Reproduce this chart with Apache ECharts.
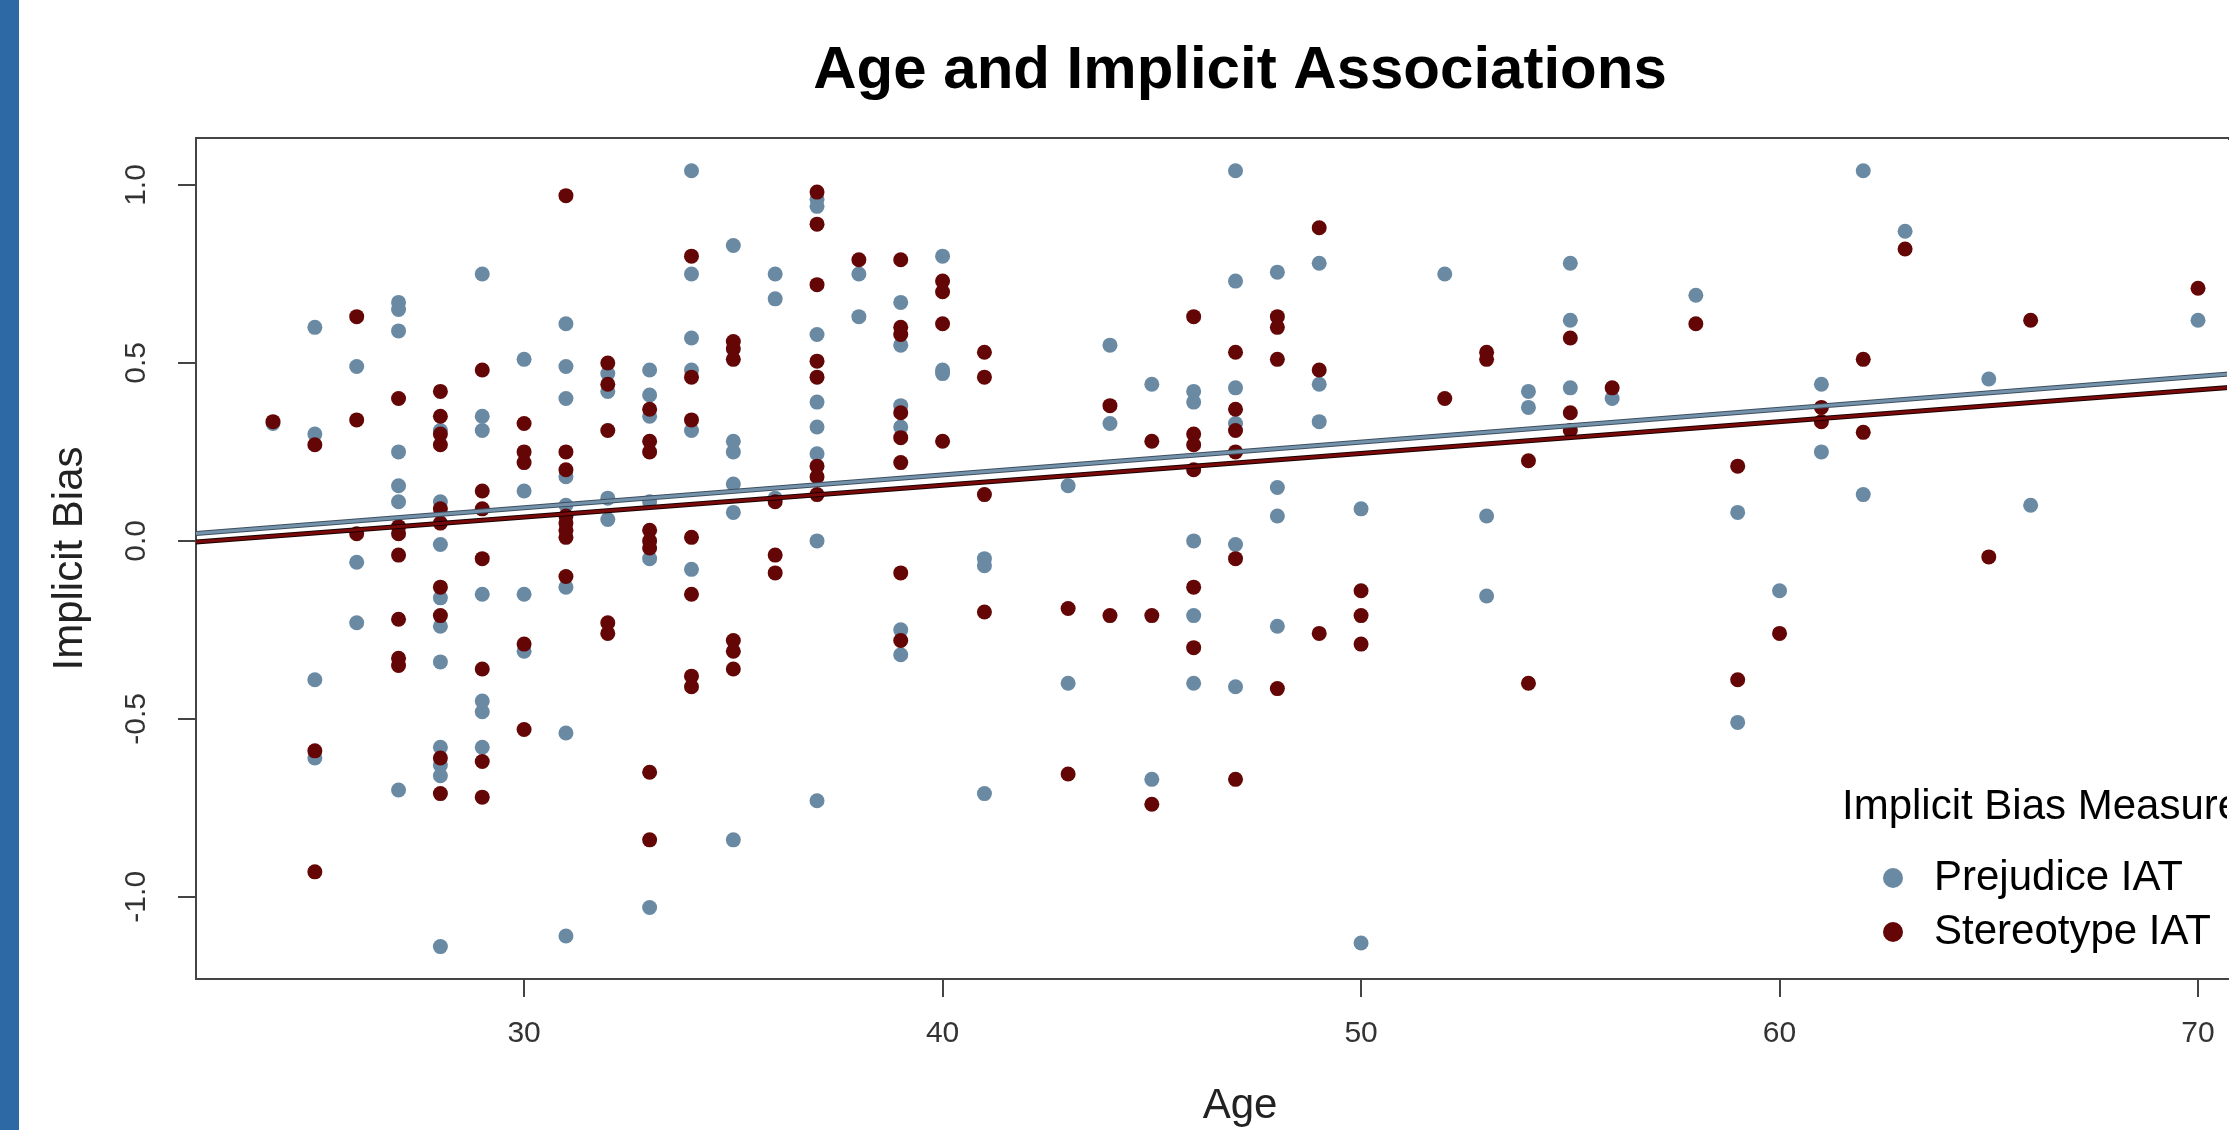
<!DOCTYPE html>
<html>
<head>
<meta charset="utf-8">
<title>Age and Implicit Associations</title>
<script src="https://cdn.jsdelivr.net/npm/echarts@6/dist/echarts.min.js"></script>
<style>
    html, body { margin: 0; padding: 0; background: #fff; }
    #chart { width: 2229px; height: 1130px; }
</style>
</head>
<body>
<div id="chart"></div>
<script>
// ages (x) and implicit bias scores (y)
var prejudiceAge = [24, 25, 25, 25, 25, 26, 26, 26,
    27, 27, 27, 27, 27, 27, 27,
    28, 28, 28, 28, 28, 28, 28, 28, 28, 28,
    29, 29, 29, 29, 29, 29, 29,
    30, 30, 30, 30,
    31, 31, 31, 31, 31, 31, 31, 31,
    32, 32, 32, 32,
    33, 33, 33, 33, 33, 33,
    34, 34, 34, 34, 34, 34,
    35, 35, 35, 35, 35, 35,
    36, 36, 36,
    37, 37, 37, 37, 37, 37, 37, 37,
    38, 38,
    39, 39, 39, 39, 39, 39,
    40, 40, 40,
    41, 41, 41,
    43, 43, 44, 44, 45, 45,
    46, 46, 46, 46, 46,
    47, 47, 47, 47, 47, 47,
    48, 48, 48, 48,
    49, 49, 49,
    50, 50, 52, 53, 53, 54, 54, 55, 55, 55,
    56, 58, 59, 59, 60, 61, 61, 62, 62, 63, 65, 66, 70];
var prejudiceBias = [0.33, 0.60, 0.30, -0.39, -0.61, 0.49, -0.06, -0.23,
    0.67, 0.65, 0.59, 0.25, 0.155, 0.11, -0.70,
    0.31, 0.11, -0.01, -0.16, -0.24, -0.34, -0.58, -0.63, -0.66, -1.14,
    0.75, 0.35, 0.31, -0.15, -0.45, -0.48, -0.58,
    0.51, 0.14, -0.15, -0.31,
    0.61, 0.49, 0.40, 0.18, 0.10, -0.13, -0.54, -1.11,
    0.47, 0.42, 0.12, 0.06,
    0.48, 0.41, 0.35, 0.11, -0.05, -1.03,
    1.04, 0.75, 0.57, 0.48, 0.31, -0.08,
    0.83, 0.28, 0.25, 0.16, 0.08, -0.84,
    0.75, 0.68, 0.12,
    0.96, 0.94, 0.58, 0.39, 0.32, 0.245, 0.00, -0.73,
    0.75, 0.63,
    0.67, 0.55, 0.38, 0.32, -0.25, -0.32,
    0.80, 0.48, 0.47,
    -0.05, -0.07, -0.71,
    0.155, -0.40, 0.55, 0.33, 0.44, -0.67,
    0.42, 0.39, 0.00, -0.21, -0.40,
    1.04, 0.73, 0.43, 0.33, -0.01, -0.41,
    0.755, 0.15, 0.07, -0.24,
    0.78, 0.44, 0.335,
    0.09, -1.13, 0.75, 0.07, -0.155, 0.42, 0.375, 0.78, 0.62, 0.43,
    0.40, 0.69, 0.08, -0.51, -0.14, 0.44, 0.25, 1.04, 0.13, 0.87, 0.455, 0.10, 0.62];

var stereotypeAge = [24, 25, 25, 25, 26, 26, 26,
    27, 27, 27, 27, 27, 27, 27,
    28, 28, 28, 28, 28, 28, 28, 28, 28, 28,
    29, 29, 29, 29, 29, 29, 29,
    30, 30, 30, 30, 30,
    31, 31, 31, 31, 31, 31, 31, 31,
    32, 32, 32, 32, 32,
    33, 33, 33, 33, 33, 33, 33, 33,
    34, 34, 34, 34, 34, 34, 34,
    35, 35, 35, 35, 35, 35,
    36, 36, 36,
    37, 37, 37, 37, 37, 37, 37, 37,
    38,
    39, 39, 39, 39, 39, 39, 39, 39,
    40, 40, 40, 40,
    41, 41, 41, 41,
    43, 43, 44, 44, 45, 45, 45,
    46, 46, 46, 46, 46, 46,
    47, 47, 47, 47, 47, 47,
    48, 48, 48, 48,
    49, 49, 49,
    50, 50, 50, 52, 53, 53, 54, 54, 55, 55, 55,
    56, 58, 59, 59, 60, 61, 61, 62, 62, 63, 65, 66, 70];
var stereotypeBias = [0.335, 0.27, -0.59, -0.93, 0.63, 0.34, 0.02,
    0.40, 0.04, 0.02, -0.04, -0.22, -0.33, -0.35,
    0.42, 0.35, 0.30, 0.27, 0.09, 0.05, -0.13, -0.21, -0.61, -0.71,
    0.48, 0.14, 0.09, -0.05, -0.36, -0.62, -0.72,
    0.33, 0.25, 0.22, -0.29, -0.53,
    0.97, 0.25, 0.20, 0.07, 0.05, 0.03, 0.01, -0.10,
    0.50, 0.44, 0.31, -0.23, -0.26,
    0.37, 0.28, 0.25, 0.03, 0.00, -0.02, -0.65, -0.84,
    0.80, 0.46, 0.34, 0.01, -0.15, -0.38, -0.41,
    0.56, 0.54, 0.51, -0.28, -0.31, -0.36,
    0.11, -0.04, -0.09,
    0.98, 0.89, 0.72, 0.505, 0.46, 0.21, 0.18, 0.13,
    0.79,
    0.79, 0.60, 0.58, 0.36, 0.29, 0.22, -0.09, -0.28,
    0.73, 0.70, 0.61, 0.28,
    0.53, 0.46, 0.13, -0.20,
    -0.19, -0.655, 0.38, -0.21, 0.28, -0.21, -0.74,
    0.63, 0.30, 0.27, 0.20, -0.13, -0.30,
    0.53, 0.37, 0.31, 0.25, -0.05, -0.67,
    0.63, 0.60, 0.51, -0.415,
    0.88, 0.48, -0.26,
    -0.14, -0.21, -0.29, 0.40, 0.53, 0.51, 0.225, -0.40, 0.57, 0.36, 0.31,
    0.43, 0.61, 0.21, -0.39, -0.26, 0.375, 0.335, 0.51, 0.305, 0.82, -0.045, 0.62, 0.71];

// fitted regression lines, read at the left and right edges of the visible plot
var fitAges = [22.16, 70.74];
var prejudiceFit = [0.021, 0.469];
var stereotypeFit = [-0.003, 0.431];

var xTicks = [30, 40, 50, 60, 70];
var yTicks = [-1.0, -0.5, 0.0, 0.5, 1.0];

var blue = '#6a8aa4';
var red = '#640606';
var font = 'Liberation Sans, Arial, Helvetica, sans-serif';

function pairs(xs, ys) {
    var out = [];
    for (var i = 0; i < xs.length; i++) {
        out.push([xs[i], ys[i]]);
    }
    return out;
}

var myChart = echarts.init(document.getElementById('chart'));
var option = {
    backgroundColor: '#ffffff',
    animation: false,
    textStyle: { fontFamily: font },
    graphic: [
        { type: 'rect', left: 0, top: 0, shape: { width: 19, height: 1130 }, style: { fill: '#2d6aa5' } },
        // the plot box runs past the right edge in the original, so hide its right side
        { type: 'rect', left: 2227, top: 140, z: 100, shape: { width: 2, height: 838 }, style: { fill: '#fff' } }
    ],
    title: [
        {
            text: 'Age and Implicit Associations',
            left: 1235,
            top: 36,
            textAlign: 'center',
            textStyle: { fontFamily: font, fontSize: 60, fontWeight: 'bold', color: '#000' }
        },
        {
            // x axis title, centred on the full (partly cut off) plot region
            text: 'Age',
            left: 1235,
            top: 1080,
            textAlign: 'center',
            textStyle: { fontFamily: font, fontSize: 42, fontWeight: 'normal', color: '#222' }
        },
        {
            text: 'Implicit Bias Measure',
            left: 1837,
            top: 781,
            textStyle: { fontFamily: font, fontSize: 42, fontWeight: 'normal', color: '#000' }
        }
    ],
    legend: {
        data: ['Prejudice IAT', 'Stereotype IAT'],
        orient: 'vertical',
        left: 1878,
        top: 852,
        icon: 'circle',
        itemWidth: 20,
        itemHeight: 20,
        itemGap: 12,
        textStyle: { fontFamily: font, fontSize: 42, lineHeight: 42, color: '#000', padding: [0, 0, 0, 26] }
    },
    grid: {
        show: true,
        left: 196,
        top: 138,
        right: 0,
        height: 841,
        borderColor: '#444',
        borderWidth: 2,
        backgroundColor: '#fff'
    },
    xAxis: {
        type: 'value',
        min: fitAges[0],
        max: fitAges[1],
        axisLine: { show: false, onZero: false },
        splitLine: { show: false },
        axisTick: { show: true, customValues: xTicks, length: 18, lineStyle: { color: '#444', width: 2 } },
        axisLabel: { customValues: xTicks, margin: 40, fontSize: 30, color: '#333', fontFamily: font }
    },
    yAxis: {
        type: 'value',
        min: -1.231,
        max: 1.132,
        name: 'Implicit Bias',
        nameLocation: 'middle',
        nameGap: 105,
        nameRotate: 90,
        nameTextStyle: { fontFamily: font, fontSize: 42, color: '#222' },
        axisLine: { show: false, onZero: false },
        splitLine: { show: false },
        axisTick: { show: true, customValues: yTicks, length: 18, lineStyle: { color: '#444', width: 2 } },
        axisLabel: {
            customValues: yTicks,
            rotate: 90,
            margin: 44,
            fontSize: 30,
            color: '#333',
            fontFamily: font,
            formatter: function (v) { return v.toFixed(1); }
        }
    },
    series: [
        {
            name: 'Prejudice IAT',
            type: 'scatter',
            symbolSize: 15,
            itemStyle: { color: blue, opacity: 1 },
            data: pairs(prejudiceAge, prejudiceBias),
            z: 2
        },
        {
            name: 'Stereotype IAT',
            type: 'scatter',
            symbolSize: 15,
            itemStyle: { color: red, opacity: 1 },
            data: pairs(stereotypeAge, stereotypeBias),
            z: 3
        },
        {
            name: 'prejudice fit edge',
            type: 'line',
            symbol: 'none',
            lineStyle: { color: '#3d4f60', width: 5 },
            data: pairs(fitAges, prejudiceFit),
            z: 4
        },
        {
            name: 'prejudice fit',
            type: 'line',
            symbol: 'none',
            lineStyle: { color: '#7592ab', width: 3 },
            data: pairs(fitAges, prejudiceFit),
            z: 5
        },
        {
            name: 'stereotype fit edge',
            type: 'line',
            symbol: 'none',
            lineStyle: { color: '#1a0000', width: 5 },
            data: pairs(fitAges, stereotypeFit),
            z: 4
        },
        {
            name: 'stereotype fit',
            type: 'line',
            symbol: 'none',
            lineStyle: { color: '#7a0a0a', width: 3 },
            data: pairs(fitAges, stereotypeFit),
            z: 5
        }
    ]
};
myChart.setOption(option);
</script>
</body>
</html>
